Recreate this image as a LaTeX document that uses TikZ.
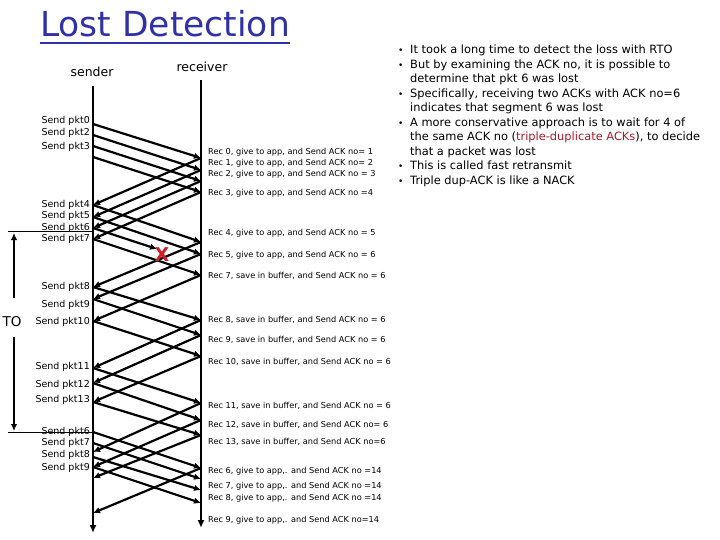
\documentclass[tikz,border=0pt]{standalone}
\usepackage{fontspec}
\setmainfont{DejaVu Sans}
\usetikzlibrary{arrows.meta}
\definecolor{titleblue}{RGB}{48,48,168}
\definecolor{lostred}{RGB}{210,30,40}
\definecolor{notered}{RGB}{175,25,40}
\begin{document}
\begin{tikzpicture}[x=1pt,y=-1pt,
  life/.style={line width=2.6pt,-{Latex[length=8pt,width=7pt]}},
  msg/.style={line width=2.2pt,-{Latex[length=7pt,width=6.5pt]}},
  tomark/.style={line width=2pt,-{Latex[length=7pt,width=6.5pt]}},
  sendlbl/.style={anchor=east,inner sep=0pt,font=\fontsize{9.5}{10}\selectfont},
  reclbl/.style={anchor=west,inner sep=0pt,font=\fontsize{8.2}{9}\selectfont},
  note/.style={anchor=base west,inner sep=0pt,font=\fontsize{11.4}{14.5}\selectfont},
  role/.style={inner sep=0pt,font=\fontsize{12.5}{14}\selectfont},
]
\useasboundingbox (0,0) rectangle (720,540);
\fill[white] (0,0) rectangle (720,540);

% title
\node[anchor=base west,inner sep=0pt,text=titleblue,font=\fontsize{34.5}{36}\selectfont] (title) at (40,37) {Lost Detection};
\draw[titleblue,line width=1.8pt] ([yshift=-6pt]title.base west) -- ([yshift=-6pt]title.base east);

% roles
\node[role] (sender) at (92,72) {sender};
\node[role] (receiver) at (202,67) {receiver};

% lifelines
\coordinate (stop) at (93,86);
\coordinate (sbot) at (93,533);
\coordinate (rtop) at (201,80);
\coordinate (rbot) at (201,528);
\draw[life] (stop) -- (sbot);
\draw[life] (rtop) -- (rbot);

% data segments sender -> receiver
\foreach \a/\b [count=\i] in {124/158,135/170,146/181,157/192,205/242,217/254,239/275,287/320,299/335,321/356,368/403,383/420,402/435,432/468,443/479,457/490,467/503}{
  \coordinate (ds\i) at (93,\a);
  \coordinate (dr\i) at (201,\b);
  \draw[msg] (ds\i) -- (dr\i);
}
% ACKs receiver -> sender
\foreach \a/\b [count=\i] in {158/205,170/217,181/228,192/239,242/287,254/299,275/321,320/368,335/383,356/402,403/452,420/467,435/478,468/513}{
  \coordinate (ar\i) at (201,\a);
  \coordinate (as\i) at (93,\b);
  \draw[msg] (ar\i) -- (as\i);
}

% lost packet
\coordinate (lostsrc) at (93,228);
\coordinate (lostend) at (157,249);
\draw[msg] (lostsrc) -- (lostend);
\node[inner sep=0pt,text=lostred,font=\fontsize{19}{20}\selectfont\bfseries] (lostx) at (162,255) {X};

% timeout marker
\coordinate (toh1l) at (8,231);
\coordinate (toh1r) at (93,231);
\coordinate (toh2l) at (8,432);
\coordinate (toh2r) at (93,432);
\draw[line width=0.9pt] (toh1l) -- (toh1r);
\draw[line width=0.9pt] (toh2l) -- (toh2r);
\node[inner sep=0pt,font=\fontsize{13.5}{14}\selectfont] (to) at (12,322) {TO};
\coordinate (toupstart) at (14,298);
\coordinate (toupend) at (14,233);
\coordinate (todnstart) at (14,337);
\coordinate (todnend) at (14,431);
\draw[tomark] (toupstart) -- (toupend);
\draw[tomark] (todnstart) -- (todnend);

% sender labels
\node[sendlbl] (sp0)  at (90,121) {Send pkt0};
\node[sendlbl] (sp2)  at (90,133) {Send pkt2};
\node[sendlbl] (sp3)  at (90,147) {Send pkt3};
\node[sendlbl] (sp4)  at (90,205) {Send pkt4};
\node[sendlbl] (sp5)  at (90,216) {Send pkt5};
\node[sendlbl] (sp6)  at (90,228) {Send pkt6};
\node[sendlbl] (sp7)  at (90,239) {Send pkt7};
\node[sendlbl] (sp8)  at (90,287) {Send pkt8};
\node[sendlbl] (sp9)  at (90,305) {Send pkt9};
\node[sendlbl] (sp10) at (90,322) {Send pkt10};
\node[sendlbl] (sp11) at (90,367) {Send pkt11};
\node[sendlbl] (sp12) at (90,385) {Send pkt12};
\node[sendlbl] (sp13) at (90,400) {Send pkt13};
\node[sendlbl] (rsp6) at (90,432) {Send pkt6};
\node[sendlbl] (rsp7) at (90,443) {Send pkt7};
\node[sendlbl] (rsp8) at (90,455) {Send pkt8};
\node[sendlbl] (rsp9) at (90,468) {Send pkt9};

% receiver labels
\node[reclbl] (rc0)  at (208,152) {Rec 0, give to app, and Send ACK no= 1};
\node[reclbl] (rc1)  at (208,163) {Rec 1, give to app, and Send ACK no= 2};
\node[reclbl] (rc2)  at (208,174) {Rec 2, give to app, and Send ACK no = 3};
\node[reclbl] (rc3)  at (208,193) {Rec 3, give to app, and Send ACK no =4};
\node[reclbl] (rc4)  at (208,233) {Rec 4, give to app, and Send ACK no = 5};
\node[reclbl] (rc5)  at (208,255) {Rec 5, give to app, and Send ACK no = 6};
\node[reclbl] (rc7)  at (208,276) {Rec 7, save in buffer, and Send ACK no = 6};
\node[reclbl] (rc8)  at (208,320) {Rec 8, save in buffer, and Send ACK no = 6};
\node[reclbl] (rc9)  at (208,340) {Rec 9, save in buffer, and Send ACK no = 6};
\node[reclbl] (rc10) at (208,362) {Rec 10, save in buffer, and Send ACK no = 6};
\node[reclbl] (rc11) at (208,406) {Rec 11, save in buffer, and Send ACK no = 6};
\node[reclbl] (rc12) at (208,425) {Rec 12, save in buffer, and Send ACK no= 6};
\node[reclbl] (rc13) at (208,442) {Rec 13, save in buffer, and Send ACK no=6};
\node[reclbl] (rr6)  at (208,471) {Rec 6, give to app,. and Send ACK no =14};
\node[reclbl] (rr7)  at (208,486) {Rec 7, give to app,. and Send ACK no =14};
\node[reclbl] (rr8)  at (208,498) {Rec 8, give to app,. and Send ACK no =14};
\node[reclbl] (rr9)  at (208,520) {Rec 9, give to app,. and Send ACK no=14};

% notes
\newcommand{\bul}{\makebox[12pt][l]{\fontsize{9}{9}\selectfont\textbullet}}
\node[note] (n1)  at (398,54)  {\bul It took a long time to detect the loss with RTO};
\node[note] (n2)  at (398,68.5)  {\bul But by examining the ACK no, it is possible to};
\node[note] (n3)  at (410,83)  {determine that pkt 6 was lost};
\node[note] (n4)  at (398,97.5)  {\bul Specifically, receiving two ACKs with ACK no=6};
\node[note] (n5)  at (410,112) {indicates that segment 6 was lost};
\node[note] (n6)  at (398,126.5) {\bul A more conservative approach is to wait for 4 of};
\node[note] (n7)  at (410,141) {the same ACK no (\textcolor{notered}{triple-duplicate ACKs}), to decide};
\node[note] (n8)  at (410,155.5) {that a packet was lost};
\node[note] (n9)  at (398,170) {\bul This is called fast retransmit};
\node[note] (n10) at (398,184.5) {\bul Triple dup-ACK is like a NACK};
\end{tikzpicture}
\end{document}
